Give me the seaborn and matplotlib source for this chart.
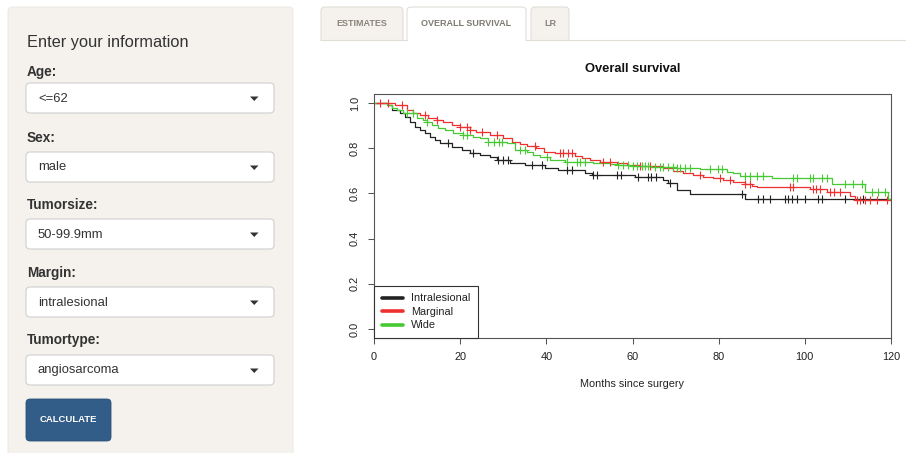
import numpy as np
import pandas as pd
import matplotlib
matplotlib.use("Agg")
import matplotlib.pyplot as plt
import seaborn as sns
from matplotlib.patches import FancyBboxPatch, Rectangle, Polygon
from matplotlib.lines import Line2D

# ---------------- data ----------------
groups = ["Intralesional", "Marginal", "Wide"]
colors = ["#222222", "#ef3030", "#46c932"]

intra_t = [0, 3.2, 4.2, 6.0, 7.2, 8.4, 9.5, 10.7, 11.8, 13.0, 14.2, 15.3, 18.1, 20.4, 22.3,
           24.6, 26.9, 28.6, 31.6, 35.1, 39.7, 42.7, 49.0, 50.6, 60.6, 67.1, 68.2, 70.3, 73.4, 86.1]
intra_s = [1.0, 0.99, 0.97, 0.956, 0.94, 0.916, 0.894, 0.88, 0.867, 0.85, 0.836, 0.823, 0.805, 0.792,
           0.779, 0.77, 0.761, 0.748, 0.735, 0.726, 0.712, 0.703, 0.69, 0.681, 0.673, 0.66, 0.646,
           0.615, 0.597, 0.575]
intra_c = [17.2, 23.0, 28.8, 29.9, 31.1, 36.7, 39.0, 44.8, 46.0, 50.8, 51.8, 56.4, 57.3, 61.3, 63.6,
           64.3, 65.5, 68.7, 85.4, 89.1, 90.3, 91.9, 95.4, 96.1, 97.0, 98.2, 100.0, 103.1, 104.0,
           109.3, 113.5]

marg_t = [0, 4.9, 7.7, 9.1, 10.7, 12.5, 14.6, 16.0, 18.1, 20.0, 22.3, 23.7, 26.9, 29.9, 32.0, 33.9,
          35.5, 37.6, 39.4, 42.0, 46.7, 48.3, 50.1, 52.5, 56.4, 58.7, 61.7, 67.1, 69.4, 71.7, 74.0,
          76.4, 78.7, 81.0, 83.3, 86.1, 87.7, 88.9, 101.2, 105.2, 110.5, 111.7]
marg_s = [1.0, 0.99, 0.97, 0.956, 0.947, 0.935, 0.925, 0.916, 0.903, 0.894, 0.881, 0.872, 0.858,
          0.845, 0.827, 0.819, 0.81, 0.8, 0.783, 0.777, 0.765, 0.757, 0.748, 0.74, 0.735, 0.726,
          0.721, 0.712, 0.699, 0.69, 0.681, 0.673, 0.668, 0.659, 0.65, 0.641, 0.632, 0.628, 0.619,
          0.606, 0.588, 0.571]
marg_c = [1.4, 3.2, 6.5, 11.8, 14.6, 20.0, 21.6, 22.3, 25.1, 28.6, 37.4, 43.2, 43.9, 45.0, 46.0,
          53.2, 54.8, 61.7, 64.0, 75.7, 80.3, 82.6, 86.1, 87.3, 96.6, 97.3, 101.9, 102.6, 103.5,
          105.8, 106.8, 108.2, 112.1, 112.8, 114.0, 115.1, 116.8, 119.1]

wide_t = [0, 3.0, 4.2, 5.3, 6.7, 10.0, 11.4, 12.3, 13.5, 14.9, 16.5, 18.3, 20.7, 23.0, 24.6, 26.5,
          30.9, 32.7, 35.5, 36.9, 38.5, 40.9, 44.3, 50.8, 54.8, 56.6, 59.4, 64.1, 69.9, 75.7, 81.9,
          83.3, 85.0, 92.4, 106.3, 114.0, 119.3]
wide_s = [1.0, 0.99, 0.978, 0.969, 0.956, 0.934, 0.925, 0.916, 0.903, 0.889, 0.88, 0.867, 0.858,
          0.85, 0.845, 0.827, 0.823, 0.792, 0.783, 0.77, 0.761, 0.748, 0.739, 0.735, 0.73, 0.726,
          0.721, 0.715, 0.712, 0.708, 0.695, 0.69, 0.677, 0.668, 0.642, 0.606, 0.575]
wide_c = [7.7, 9.1, 12.3, 20.7, 21.6, 26.5, 27.9, 29.0, 29.7, 33.9, 35.1, 40.2, 44.8, 47.1, 47.8,
          49.0, 56.6, 57.8, 59.0, 60.1, 61.0, 62.2, 62.9, 63.6, 65.2, 66.4, 67.1, 68.2, 69.4, 70.3,
          71.0, 72.2, 73.4, 78.0, 79.9, 80.8, 86.1, 87.3, 88.9, 90.3, 97.3, 98.2, 101.2, 101.9,
          104.0, 105.2, 109.3, 111.2, 113.3, 115.6, 117.0, 118.6]

x_ticks = [0, 20, 40, 60, 80, 100, 120]
y_ticks = [0.0, 0.2, 0.4, 0.6, 0.8, 1.0]
x_max = 120

# sidebar / tab texts
sidebar_title = "Enter your information"
field_labels = ["Age:", "Sex:", "Tumorsize:", "Margin:", "Tumortype:"]
field_values = ["<=62", "male", "50-99.9mm", "intralesional", "angiosarcoma"]
tab_labels = ["ESTIMATES", "OVERALL SURVIVAL", "LR"]
button_label = "CALCULATE"

# ---------------- build frames ----------------
curve_rows, cens_rows = [], []
for g, t, s, c in [(groups[0], intra_t, intra_s, intra_c),
                   (groups[1], marg_t, marg_s, marg_c),
                   (groups[2], wide_t, wide_s, wide_c)]:
    tt = list(t) + [x_max]
    ss = list(s) + [s[-1]]
    for a, b in zip(tt, ss):
        curve_rows.append((g, a, b))
    ta = np.asarray(t)
    sa = np.asarray(s)
    for ci in c:
        cens_rows.append((g, ci, sa[np.searchsorted(ta, ci, side="right") - 1]))
curves = pd.DataFrame(curve_rows, columns=["group", "t", "s"])
cens = pd.DataFrame(cens_rows, columns=["group", "t", "s"])
pal = dict(zip(groups, colors))

# ---------------- figure ----------------
sns.set_theme(style="white")
plt.rcParams["font.family"] = ["Liberation Sans", "DejaVu Sans"]

W, H = 906, 453
fig = plt.figure(figsize=(W / 100, H / 100), dpi=100)
fig.patch.set_facecolor("white")

ui = fig.add_axes([0, 0, 1, 1], zorder=0)
ui.set_xlim(0, W)
ui.set_ylim(H, 0)
ui.axis("off")

# sidebar panel
ui.add_patch(FancyBboxPatch((8, 7), 285, 470, boxstyle="round,pad=0,rounding_size=4",
                            fc="#f5f2ee", ec="#ebe7e0", lw=0.6))
ui.text(27, 43, sidebar_title, fontsize=11.8, color="#333333", va="center", ha="left")
label_y = [72, 138, 205, 273, 340]
box_y = [83, 152, 219, 287, 355]
for lab, val, ly, by in zip(field_labels, field_values, label_y, box_y):
    ui.text(27, ly, lab, fontsize=9.8, fontweight="bold", color="#333333", va="center", ha="left")
    ui.add_patch(FancyBboxPatch((26, by), 248, 30, boxstyle="round,pad=0,rounding_size=4",
                                fc="white", ec="#cfcfcf", lw=0.8))
    ui.text(38, by + 15.5, val, fontsize=9.4, color="#333333", va="center", ha="left")
    ui.add_patch(Polygon([(250, by + 13.5), (258.5, by + 13.5), (254.25, by + 18)],
                         closed=True, fc="#333333", ec="none"))
ui.add_patch(FancyBboxPatch((26, 399), 85, 42, boxstyle="round,pad=0,rounding_size=4",
                            fc="#325d88", ec="#2b5279", lw=0.6))
ui.text(68.5, 420, button_label, fontsize=6.8, fontweight="bold", color="white",
        va="center", ha="center")

# tabs
tab_x = [(321, 82), (407, 119), (531, 38)]
for i, ((x0, w), lab) in enumerate(zip(tab_x, tab_labels)):
    active = (i == 1)
    ui.add_patch(FancyBboxPatch((x0, 7), w, 44, boxstyle="round,pad=0,rounding_size=4",
                                fc="white" if active else "#f5f2ee", ec="#e2ded7", lw=0.8))
ui.add_patch(Rectangle((300, 40.5), 606, 14, fc="white", ec="none", zorder=3))
ui.plot([321, 407], [40, 40], color="#e2ded7", lw=0.8, zorder=4)
ui.plot([526, 906], [40, 40], color="#e2ded7", lw=0.8, zorder=4)
for (x0, w), lab, i in zip(tab_x, tab_labels, range(3)):
    ui.text(x0 + w / 2, 23.5, lab, fontsize=6.5, fontweight="bold",
            color="#8a847a" if i != 1 else "#7f7a71", va="center", ha="center", zorder=5)

# ---------------- plot ----------------
L, R, T, B = 374, 891, 94, 338
ax = fig.add_axes([L / W, 1 - B / H, (R - L) / W, (B - T) / H], zorder=2)
ax.set_facecolor("white")

sns.lineplot(data=curves, x="t", y="s", hue="group", palette=pal, hue_order=groups,
             estimator=None, sort=False, drawstyle="steps-post", lw=0.9, legend=False, ax=ax)
sns.scatterplot(data=cens, x="t", y="s", hue="group", palette=pal, hue_order=groups,
                marker="+", s=34, linewidth=0.8, legend=False, ax=ax, zorder=3)

ax.set_xlim(0, x_max)
ax.set_ylim(-0.04, 1.04)
ax.set_xticks(x_ticks)
ax.set_xticklabels([str(v) for v in x_ticks])
ax.set_yticks(y_ticks)
ax.set_yticklabels([f"{v:.1f}" for v in y_ticks], rotation=90, va="center")
for sp in ax.spines.values():
    sp.set_visible(True)
    sp.set_color("#555555")
    sp.set_linewidth(0.8)
ax.tick_params(axis="both", which="both", bottom=True, left=True, length=4.3, width=0.75,
               color="#555555", direction="out", pad=6, labelsize=7.9, labelcolor="#222222")
ax.set_xlabel("Months since surgery", fontsize=7.8, color="#222222")
ax.xaxis.set_label_coords(0.5, -0.17)
ax.set_ylabel("")
ax.set_title("Overall survival", fontsize=9.3, fontweight="bold", color="#111111", pad=15.5)

handles = [Line2D([0], [0], color=c, lw=2.6) for c in colors]
leg = ax.legend(handles, groups, loc="lower left", bbox_to_anchor=(0, 0), borderaxespad=0,
                fontsize=7.8, frameon=True, fancybox=False, framealpha=1, edgecolor="#333333",
                handlelength=2.0, handletextpad=0.75, labelspacing=0.32, borderpad=0.7)
leg.get_frame().set_linewidth(0.8)
for t in leg.get_texts():
    t.set_color("#222222")

fig.savefig("out.png", dpi=100, facecolor="white")
